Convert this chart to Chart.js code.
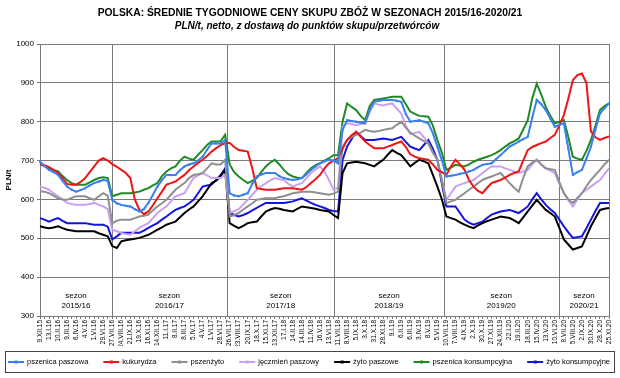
<!DOCTYPE html>
<html><head><meta charset="utf-8">
<script src="https://cdn.jsdelivr.net/npm/chart.js@4.4.0/dist/chart.umd.min.js"></script>
<style>html,body{margin:0;padding:0;background:#fff;}canvas{display:block;}</style>
</head><body>
<canvas id="c" width="620" height="378" style="width:620px;height:378px"></canvas>
<script>
const dateLabels = ['9.XII.15','13.I.16','10.II.16','9.III.16','6.IV.16','4.V.16','1.VI.16','29.VI.16','27.VII.16','24.VIII.16','21.IX.16','19.X.16','16.XI.16','14.XII.16','11.I.17','8.II.17','8.III.17','5.IV.17','4.V.17','1.VI.17','28.VI.17','26.VII.17','23.VIII.17','20.IX.17','18.X.17','15.XI.17','13.XII.17','17.I.18','14.II.18','14.III.18','11.IV.18','16.V.18','13.VI.18','11.VII.18','8.VIII.18','5.IX.18','3.X.18','31.X.18','28.XI.18','9.I.19','6.II.19','6.III.19','3.IV.19','8.V.19','5.VI.19','10.VII.19','7.VIII.19','4.IX.19','2.X.19','30.X.19','27.XI.19','24.XII.19','22.I.20','19.II.20','18.III.20','15.IV.20','13.V.20','10.VI.20','8.VII.20','5.VIII.20','2.IX.20','30.IX.20','28.X.20','25.XI.20'];
const seasonNames = ['2015/16','2016/17','2017/18','2018/19','2019/20','2020/21'];
const seasonStarts = [15.9, 41.4, 65.2, 89.4, 114.9];
const seriesNames = ['pszenica paszowa','kukurydza','pszenżyto','jęczmień paszowy','żyto paszowe','pszenica konsumpcyjna','żyto konsumpcyjne'];

const pszenicaPaszowa = [697,686,676,670,663,648,633,625,620,624,629,636,642,646,650,648,599,590,586,584,582,575,569,575,591,612,633,650,663,663,663,675,685,690,693,700,710,728,744,744,744,753,616,610,608,612,616,640,659,664,668,668,668,660,655,652,650,652,655,665,676,685,693,698,702,700,693,779,804,802,800,798,796,830,851,854,856,856,856,854,851,820,800,802,804,800,796,770,736,700,659,661,663,666,668,672,676,683,689,691,693,704,714,725,736,742,749,755,761,810,856,845,830,808,787,792,796,730,663,670,676,705,736,780,821,835,847];
const kukurydza = [691,688,683,676,668,655,640,638,638,645,655,670,685,700,706,700,691,684,676,668,655,600,573,562,569,585,603,620,638,642,646,655,663,675,685,694,702,712,723,732,740,745,745,735,727,725,723,680,629,627,625,625,625,627,629,629,629,627,625,632,642,652,663,680,693,700,706,730,753,765,774,762,749,740,732,732,732,736,740,745,749,735,716,710,706,704,702,690,676,670,663,685,702,690,676,650,633,622,616,630,642,646,650,656,663,668,672,700,727,735,740,745,749,758,766,790,817,860,907,920,924,900,775,760,753,758,762];
const pszenzyto = [621,620,616,610,603,600,599,604,608,608,608,603,599,608,616,610,539,545,548,548,548,552,556,558,561,572,582,590,599,612,625,634,642,655,663,665,668,680,693,690,690,702,556,560,565,574,582,590,599,601,603,603,603,606,608,612,616,618,620,620,620,618,616,614,612,615,620,736,753,760,766,772,779,776,774,776,779,781,783,792,800,785,772,764,757,750,744,720,702,650,591,595,599,608,616,625,633,642,650,655,659,664,668,655,642,630,620,655,685,695,702,690,680,678,676,645,616,600,591,604,616,634,650,663,676,690,702];
const jeczmienPaszowy = [633,630,625,616,608,600,591,588,586,586,586,588,591,586,582,575,522,518,514,511,509,518,527,533,539,552,565,574,582,595,608,612,616,636,655,662,668,662,655,655,655,663,565,570,575,587,599,612,625,634,642,649,655,652,650,640,633,638,642,655,668,677,685,672,650,625,630,787,796,794,791,794,796,825,847,844,842,845,847,834,821,790,768,771,774,760,744,720,702,650,599,616,633,638,642,646,650,659,668,677,685,685,685,680,676,672,668,672,676,690,702,690,680,674,668,640,616,598,582,600,616,625,633,642,650,665,680];
const zytoPaszowe = [531,528,526,528,531,526,522,520,518,518,518,518,518,513,509,505,480,475,492,495,497,499,501,505,509,515,522,528,535,539,543,554,565,574,582,595,608,625,642,648,660,676,539,532,526,532,539,541,543,556,569,574,578,576,573,571,569,576,582,580,578,576,573,571,569,560,552,668,693,695,697,695,693,689,685,694,702,715,727,720,714,700,685,694,702,698,693,663,633,600,556,552,548,541,535,530,526,533,539,544,548,552,556,554,552,546,539,554,569,584,599,586,573,565,556,527,497,484,471,475,479,505,531,552,573,576,578];
const pszenicaKonsumpcyjna = [691,686,680,676,672,660,650,642,638,638,638,644,650,655,657,655,608,612,616,616,616,618,620,625,629,636,642,660,672,680,685,700,710,705,702,715,727,740,749,749,750,766,690,670,659,650,642,648,655,670,685,695,702,690,676,665,659,656,655,668,680,688,693,700,706,714,714,800,847,838,830,815,804,840,856,858,860,862,864,864,864,845,826,820,815,814,813,790,753,720,676,682,689,687,685,690,697,702,706,710,714,720,727,736,744,750,757,780,804,860,898,870,838,815,796,800,804,760,710,705,702,725,753,790,830,840,847];
const zytoKonsumpcyjne = [552,548,543,548,552,545,539,539,539,539,539,537,535,535,535,530,497,505,514,514,514,514,514,520,527,533,539,548,556,565,573,578,582,590,599,616,633,636,638,650,663,680,565,560,556,560,565,572,578,585,591,591,591,591,591,593,595,599,603,597,591,586,582,578,573,570,569,702,736,755,774,763,753,753,753,755,757,755,753,757,761,748,736,731,727,740,753,730,702,640,582,582,582,565,548,540,535,539,543,552,561,565,569,571,573,569,565,573,582,600,616,600,586,575,565,548,531,515,501,503,505,526,548,570,591,591,591];

const seriesValues = [pszenicaPaszowa, kukurydza, pszenzyto, jeczmienPaszowy, zytoPaszowe, pszenicaKonsumpcyjna, zytoKonsumpcyjne];
const seriesColors = ['#3a80f0','#f01414','#8f8f8f','#c9a0f2','#000000','#1f8a24','#1414e0'];
const seriesMarkers = [1.4, 0, 0, 0, 0, 0, 0];
const FONT = '"Liberation Sans", Arial, sans-serif';

const categories = [];
for (let i = 0; i < pszenicaPaszowa.length; i++) categories.push(i % 2 === 0 ? (dateLabels[i / 2] || '') : '');

const decor = {
  id: 'decor',
  beforeDatasetsDraw(chart) {
    const {ctx, chartArea: a, scales: {x}} = chart;
    ctx.save();
    ctx.strokeStyle = '#7a7a7a';
    ctx.lineWidth = 1;
    seasonStarts.forEach(v => {
      const px = Math.round(x.getPixelForValue(v)) + 0.5;
      ctx.beginPath(); ctx.moveTo(px, a.top); ctx.lineTo(px, a.bottom); ctx.stroke();
    });
    ctx.beginPath(); ctx.moveTo(Math.round(a.right) + 0.5, a.top); ctx.lineTo(Math.round(a.right) + 0.5, a.bottom); ctx.stroke();
    const edges = [0, ...seasonStarts, categories.length - 1];
    ctx.fillStyle = '#000';
    ctx.font = '8px ' + FONT;
    ctx.textAlign = 'center';
    ctx.textBaseline = 'middle';
    for (let s = 0; s < seasonNames.length; s++) {
      const cx = (x.getPixelForValue(edges[s]) + x.getPixelForValue(edges[s + 1])) / 2;
      ctx.fillText('sezon', cx, a.bottom - 20);
      ctx.fillText(seasonNames[s], cx, a.bottom - 10);
    }
    ctx.restore();
  },
  afterDraw(chart) {
    const {ctx, chartArea: a} = chart;
    ctx.save();
    ctx.fillStyle = '#000';
    ctx.textAlign = 'center';
    ctx.textBaseline = 'middle';
    ctx.font = 'bold 10.3px ' + FONT;
    ctx.fillText('POLSKA: ŚREDNIE TYGODNIOWE CENY SKUPU ZBÓŻ W SEZONACH 2015/16-2020/21', 310, 13);
    ctx.font = 'italic bold 10px ' + FONT;
    ctx.fillText('PLN/t, netto, z dostawą do punktów skupu/przetwórców', 307, 26);
    ctx.save();
    ctx.translate(9, (a.top + a.bottom) / 2);
    ctx.rotate(-Math.PI / 2);
    ctx.font = 'bold 8px ' + FONT;
    ctx.fillText('PLN/t', 0, 0);
    ctx.restore();
    ctx.font = '7.5px ' + FONT;
    const lineW = 16, gapT = 3, gapI = 15;
    const widths = seriesNames.map(n => lineW + gapT + ctx.measureText(n).width);
    const total = widths.reduce((p, c) => p + c, 0) + gapI * (seriesNames.length - 1);
    let lx = 309 - total / 2;
    const ly = 362;
    ctx.strokeStyle = '#444';
    ctx.lineWidth = 1;
    ctx.strokeRect(5.5, 351.5, 609, 21);
    ctx.textAlign = 'left';
    seriesNames.forEach((n, k) => {
      ctx.strokeStyle = seriesColors[k];
      ctx.fillStyle = seriesColors[k];
      ctx.lineWidth = 2;
      ctx.beginPath(); ctx.moveTo(lx, ly); ctx.lineTo(lx + lineW, ly); ctx.stroke();
      ctx.fillRect(lx + lineW / 2 - 1.5, ly - 1.5, 3, 3);
      ctx.fillStyle = '#000';
      ctx.fillText(n, lx + lineW + gapT, ly);
      lx += widths[k] + gapI;
    });
    ctx.restore();
  }
};

new Chart(document.getElementById('c'), {
  type: 'line',
  data: {
    labels: categories,
    datasets: seriesNames.map((n, k) => ({
      label: n,
      data: seriesValues[k],
      borderColor: seriesColors[k],
      backgroundColor: seriesColors[k],
      borderWidth: 2,
      pointStyle: 'rect',
      pointRadius: seriesMarkers[k],
      pointBorderWidth: 0,
      pointHoverRadius: 0,
      tension: 0
    }))
  },
  options: {
    responsive: false,
    animation: false,
    devicePixelRatio: 1,
    elements: {line: {tension: 0}},
    layout: {padding: {left: 0, right: 11, top: 44, bottom: 32}},
    plugins: {legend: {display: false}, title: {display: false}, tooltip: {enabled: false}},
    scales: {
      x: {
        type: 'category',
        offset: false,
        grid: {drawOnChartArea: false, drawTicks: true, tickLength: 3, color: '#7a7a7a'},
        border: {display: true, color: '#7a7a7a'},
        ticks: {autoSkip: false, maxRotation: 90, minRotation: 90, padding: 1, color: '#000', font: {size: 6.5, family: FONT}},
        afterFit(s) { s.height = 30; }
      },
      y: {
        min: 300, max: 1000,
        grid: {color: '#7a7a7a', tickLength: 3},
        border: {display: true, color: '#7a7a7a'},
        ticks: {stepSize: 100, padding: 3, color: '#000', font: {size: 8, family: FONT}, callback: v => String(v)},
        afterFit(s) { s.width = 40; }
      }
    }
  },
  plugins: [decor]
});
</script>
</body></html>
